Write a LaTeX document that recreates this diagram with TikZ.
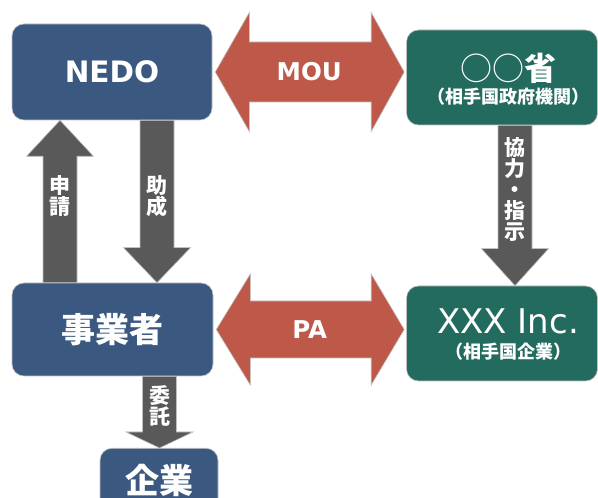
\documentclass[tikz,border=0pt]{standalone}
\usepackage{fontspec}
\setmainfont{Noto Sans CJK JP}
\newfontfamily\latinfont{DejaVu Sans}
\usepackage{tikz}
\usetikzlibrary{calc}
\definecolor{nedoblue}{RGB}{59,89,128}
\definecolor{govgreen}{RGB}{35,107,94}
\definecolor{agreered}{RGB}{190,88,72}
\definecolor{arrowgray}{RGB}{89,89,89}

\begin{document}
\begin{tikzpicture}[x=1pt, y=1pt,
    box/.style={rounded corners=12pt, draw=black!25, line width=0.6pt, text=white, inner sep=0pt},
    bluebox/.style={box, fill=nedoblue, font=\fontsize{34}{36}\selectfont\bfseries},
    greenbox/.style={box, fill=govgreen},
    boxtext/.style={text=white, align=center},
    grayarrow/.style={fill=arrowgray, draw=black!25, line width=0.6pt},
    redarrow/.style={fill=agreered, draw=black!25, line width=0.6pt},
    vlabel/.style={text=white, align=center, font=\fontsize{21}{19.5}\selectfont\bfseries},
    hlabel/.style={text=white, font=\fontsize{24.5}{30}\latinfont\bfseries},
    vblock/.style={to path={let \p1=(\tikztostart), \p2=(\tikztotarget), \n1={sign(\y2-\y1)} in
      ({\x1-17pt},\y1) -- ({\x1-17pt},{\y2-\n1*#1}) -- ({\x1-33.5pt},{\y2-\n1*#1}) -- (\x1,\y2)
      -- ({\x1+33.5pt},{\y2-\n1*#1}) -- ({\x1+17pt},{\y2-\n1*#1}) -- ({\x1+17pt},\y1) -- cycle}},
    dblock/.style 2 args={to path={let \p1=(\tikztostart), \p2=(\tikztotarget) in
      (\x1,\y1) -- ({\x1+34pt},{\y1+#2}) -- ({\x1+34pt},{\y1+#1}) -- ({\x2-33pt},{\y1+#1})
      -- ({\x2-33pt},{\y1+#2}) -- (\x2,\y1) -- ({\x2-33pt},{\y1-#2}) -- ({\x2-33pt},{\y1-#1})
      -- ({\x1+34pt},{\y1-#1}) -- ({\x1+34pt},{\y1-#2}) -- cycle}}]
  \useasboundingbox (0,0) rectangle (598,498);
  % boxes
  \node[bluebox, minimum width=200pt, minimum height=96pt, font=\fontsize{29.5}{36}\latinfont\bfseries] (nedo) at (112,426) {NEDO};
  \node[greenbox, minimum width=191pt, minimum height=95pt] (gov) at (502,420.5) {};
  \node[boxtext, font=\fontsize{32}{23}\selectfont\bfseries] (govtext) at ([xshift=6pt,yshift=-2pt]gov.center)
    {{\mdseries ○○}省\\{\fontsize{18}{22}\selectfont （相手国政府機関）}};
  \node[bluebox, minimum width=201pt, minimum height=93pt] (jigyo) at (112.5,168.5) {事業者};
  \node[greenbox, minimum width=191pt, minimum height=95pt] (xxx) at (502,164.5) {};
  \node[boxtext, font=\fontsize{34}{25}\selectfont] (xxxtext) at ([xshift=6pt,yshift=-1pt]xxx.center)
    {{\latinfont XXX Inc.}\\{\fontsize{18}{22}\selectfont\bfseries （相手国企業）}};
  \node[bluebox, minimum width=118pt, minimum height=64pt, anchor=north] (kigyo) at (159,50) {企業};

  % agreements
  \draw[redarrow] ([xshift=3pt]nedo.east) to[dblock={30pt}{59.5pt}] ($(nedo.east -| gov.west)+(-2,0)$);
  \node[hlabel] (mou) at ($(nedo.east)!0.5!(nedo.east -| gov.west)$) {MOU};
  \draw[redarrow] ([xshift=3pt]jigyo.east) to[dblock={28.5pt}{55.5pt}] ($(jigyo.east -| xxx.west)+(-2,0)$);
  \node[hlabel] (pa) at ($(jigyo.east)!0.5!(jigyo.east -| xxx.west)$) {PA};

  % flows
  \draw[grayarrow] ([xshift=-52.5pt]jigyo.north) to[vblock=36pt] ([xshift=-52.5pt]nedo.south);
  \node[vlabel] (shinsei) at (60,302) {申\\請};
  \draw[grayarrow] ([xshift=45pt]nedo.south) to[vblock=35pt] ([xshift=45pt]jigyo.north);
  \node[vlabel] (josei) at (157,301.5) {助\\成};
  \draw[grayarrow] ([xshift=13pt]gov.south) to[vblock=37pt] ([xshift=13pt]xxx.north);
  \node[vlabel, font=\fontsize{21}{21}\selectfont\bfseries] (kyoryoku) at (515,308.5) {協\\力\\・\\指\\示};
  \draw[grayarrow] ([xshift=47pt]jigyo.south) to[vblock=16pt] (kigyo.north);
  \node[vlabel] (itaku) at (159.5,92) {委\\託};
\end{tikzpicture}
\end{document}
